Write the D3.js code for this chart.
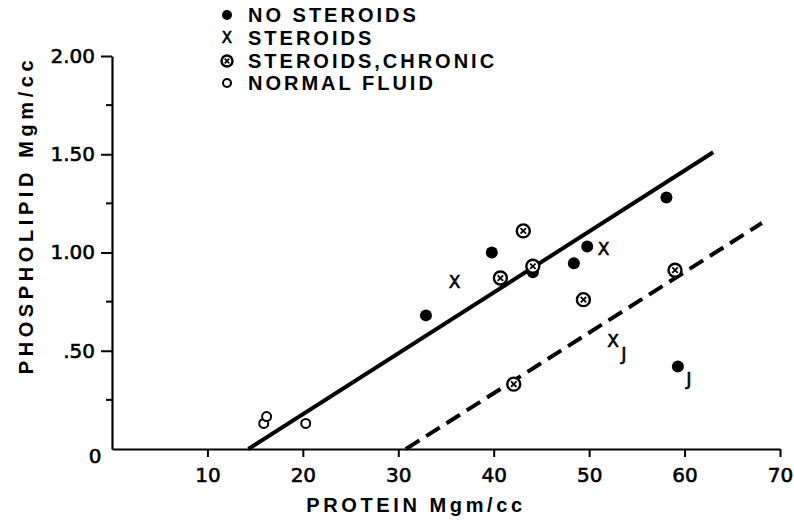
<!DOCTYPE html>
<html>
<head>
<meta charset="utf-8">
<script src="https://cdn.jsdelivr.net/npm/d3@7"></script>
<style>
  body { margin: 0; background: #fff; }
</style>
</head>
<body>
<svg id="chart" width="794" height="521"></svg>
<script>
// values: [protein, phospholipid, note]
const noSteroids = [[32.9, 0.68], [39.8, 1.00], [44.1, 0.90], [48.4, 0.945], [49.8, 1.03], [58.1, 1.28], [59.3, 0.42, "J"]];
const steroids = [[35.9, 0.85], [51.5, 1.02], [52.5, 0.55, "J"]];
const steroidsChronic = [[40.7, 0.87], [42.1, 0.33], [43.1, 1.11], [44.1, 0.93], [49.4, 0.76], [59.0, 0.91]];
const normalFluid = [[15.9, 0.13], [16.2, 0.165], [20.3, 0.13]];

// fitted lines, start and end points
const solidLine = [[14.3, 0], [63.0, 1.51]];
const dashedLine = [[30.8, 0], [68.1, 1.15]];

const xTicks = [10, 20, 30, 40, 50, 60, 70];
const yTicks = [0.5, 1.0, 1.5, 2.0];
const yTickLabels = [".50", "1.00", "1.50", "2.00"];
const yMinorTicks = [0.25, 0.75, 1.25, 1.75];
const legendLabels = ["NO STEROIDS", "STEROIDS", "STEROIDS,CHRONIC", "NORMAL FLUID"];
const legendKinds = ["dot", "x", "chronic", "open"];

const LETTER = "Liberation Sans";   // titles and legend
const DIGIT = "DejaVu Sans";        // tick numbers

const svg = d3.select("#chart");

const x = d3.scaleLinear().domain([0, 70]).range([112, 780]);
const y = d3.scaleLinear().domain([0, 2]).range([449, 56]);

// lettering pen: thin outline makes the regular face a bit heavier
function pen(sel) {
  sel.attr("font-family", DIGIT).attr("fill", "#000")
    .attr("stroke", "#000").attr("stroke-width", 0.6);
}

const xAxis = svg.append("g").attr("transform", `translate(0,${y(0)})`)
  .call(d3.axisBottom(x).tickValues(xTicks).tickSize(8).tickSizeOuter(0).tickPadding(11));
xAxis.select(".domain").attr("stroke-width", 2.2);
xAxis.selectAll(".tick line").attr("stroke-width", 2);
xAxis.selectAll(".tick text").attr("font-size", 20).call(pen);

const yAxis = svg.append("g").attr("transform", `translate(${x(0)},0)`)
  .call(d3.axisLeft(y).tickValues(yTicks).tickFormat((d, i) => yTickLabels[i]).tickSize(11).tickSizeOuter(0).tickPadding(6));
yAxis.select(".domain").attr("stroke-width", 2.2);
yAxis.selectAll(".tick line").attr("stroke-width", 2);
yAxis.selectAll(".tick text").attr("font-size", 20).call(pen);

svg.append("g").selectAll("line").data(yMinorTicks).join("line")
  .attr("x1", x(0) - 6).attr("x2", x(0))
  .attr("y1", d => y(d)).attr("y2", d => y(d))
  .attr("stroke", "#000").attr("stroke-width", 2);

// the shared "0" at the corner
svg.append("text").attr("x", x(0) - 17).attr("y", y(0) + 7).attr("dy", "0.36em")
  .attr("font-size", 20).attr("text-anchor", "middle").call(pen).text("0");

// axis titles
svg.append("text").attr("x", 416).attr("y", 512)
  .attr("text-anchor", "middle").attr("font-family", LETTER).attr("font-weight", "bold")
  .attr("font-size", 20).attr("letter-spacing", 3.6)
  .text("PROTEIN  Mgm/cc");
svg.append("text").attr("transform", "translate(33,215) rotate(-90)")
  .attr("text-anchor", "middle").attr("font-family", LETTER).attr("font-weight", "bold")
  .attr("font-size", 20).attr("letter-spacing", 4.6)
  .text("PHOSPHOLIPID  Mgm/cc");

// regression lines
const line = d3.line().x(d => x(d[0])).y(d => y(d[1]));
svg.append("path").datum(solidLine).attr("d", line)
  .attr("fill", "none").attr("stroke", "#000").attr("stroke-width", 4);
svg.append("path").datum(dashedLine).attr("d", line)
  .attr("fill", "none").attr("stroke", "#000").attr("stroke-width", 4)
  .attr("stroke-dasharray", "16,8");

// marker painters
function drawDot(g, r) {
  g.append("circle").attr("r", r).attr("fill", "#000");
}
function drawOpen(g, r) {
  g.append("circle").attr("r", r).attr("fill", "#fff").attr("stroke", "#000").attr("stroke-width", 2);
}
function drawChronic(g, r) {
  g.append("circle").attr("r", r).attr("fill", "#fff").attr("stroke", "#000").attr("stroke-width", 2.4);
  const k = r * 0.42;
  g.append("path").attr("d", `M${-k},${-k}L${k},${k}M${-k},${k}L${k},${-k}`)
    .attr("stroke", "#000").attr("stroke-width", 1.8);
}
function drawX(g, size) {
  g.append("text").attr("text-anchor", "middle").attr("dy", "0.36em")
    .attr("font-size", size).call(pen).text("X");
}

function plot(data, painter, arg) {
  svg.append("g").selectAll("g").data(data).join("g")
    .attr("transform", d => `translate(${x(d[0])},${y(d[1])})`)
    .each(function () { painter(d3.select(this), arg); });
}

plot(noSteroids, drawDot, 6);
plot(steroidsChronic, drawChronic, 6.5);
plot(normalFluid, drawOpen, 4.5);
plot(steroids, drawX, 17);

// "J" notes next to two points
const noted = noSteroids.concat(steroids).filter(d => d[2]);
svg.append("g").selectAll("text").data(noted).join("text")
  .attr("x", d => x(d[0]) + 11).attr("y", d => y(d[1]) + 19)
  .attr("text-anchor", "middle").attr("font-size", 18).call(pen)
  .text(d => d[2]);

// legend
const legend = svg.append("g").selectAll("g").data(legendLabels).join("g")
  .attr("transform", (d, i) => `translate(227,${[15, 38, 61, 83][i]})`);
legend.each(function (d, i) {
  const g = d3.select(this);
  const kind = legendKinds[i];
  if (kind === "dot") drawDot(g, 5);
  if (kind === "open") drawOpen(g, 4);
  if (kind === "chronic") drawChronic(g, 5.5);
  if (kind === "x") drawX(g, 15);
});
legend.append("text").attr("x", 21).attr("dy", "0.36em")
  .attr("font-family", LETTER).attr("font-weight", "bold")
  .attr("font-size", 20).attr("letter-spacing", 3)
  .text(d => d);
</script>
</body>
</html>
